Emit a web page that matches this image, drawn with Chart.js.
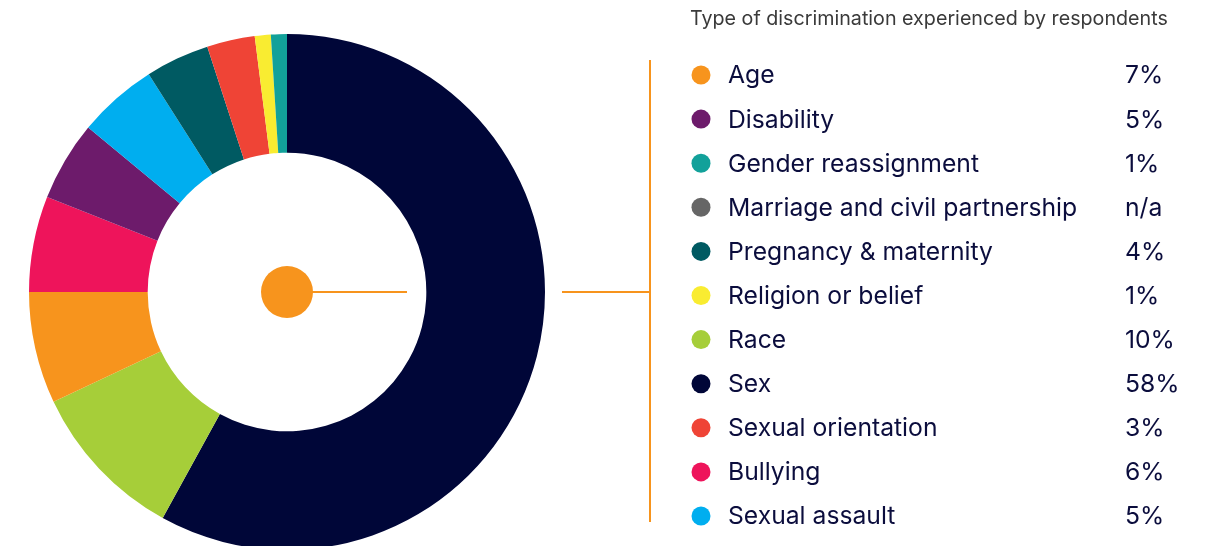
<!DOCTYPE html>
<html>
<head>
<meta charset="utf-8">
<script src="https://cdn.jsdelivr.net/npm/chart.js@4"></script>
<style>
  html, body { margin: 0; padding: 0; background: #fff; overflow: hidden; }
  #wrap { position: relative; width: 1215px; height: 560px; }
</style>
</head>
<body>
<div id="wrap"><canvas id="chart" width="1215" height="560"></canvas></div>
<script>
const title = 'Type of discrimination experienced by respondents';
const categories = ['Age', 'Disability', 'Gender reassignment', 'Marriage and civil partnership',
  'Pregnancy & maternity', 'Religion or belief', 'Race', 'Sex', 'Sexual orientation',
  'Bullying', 'Sexual assault'];
const values = [7, 5, 1, null, 4, 1, 10, 58, 3, 6, 5];
const valueLabels = ['7%', '5%', '1%', 'n/a', '4%', '1%', '10%', '58%', '3%', '6%', '5%'];
const colors = ['#f7941d', '#6d1b6b', '#12a19a', '#666666', '#005a62', '#f9ec31',
  '#a6ce39', '#000638', '#ef4436', '#ee145b', '#00aeef'];
// order of the slices clockwise from 12 o'clock
const ringOrder = ['Sex', 'Race', 'Age', 'Bullying', 'Disability', 'Sexual assault',
  'Pregnancy & maternity', 'Sexual orientation', 'Religion or belief', 'Gender reassignment'];

const ringIdx = ringOrder.map(n => categories.indexOf(n));
const orange = '#f7941d';
const navy = '#0b0d3d';
const font = '"Inter", "Noto Sans", sans-serif';

const overlay = {
  id: 'overlay',
  afterDraw(chart) {
    const ctx = chart.ctx;
    const arc = chart.getDatasetMeta(0).data[0];
    const cx = arc.x, cy = arc.y;
    ctx.save();
    // connector lines
    ctx.strokeStyle = orange;
    ctx.lineWidth = 2;
    ctx.beginPath();
    ctx.moveTo(cx, cy); ctx.lineTo(407, cy);
    ctx.moveTo(562, cy); ctx.lineTo(650, cy);
    ctx.moveTo(650, 60); ctx.lineTo(650, 522);
    ctx.stroke();
    ctx.fillStyle = orange;
    ctx.beginPath(); ctx.arc(cx, cy, 26, 0, Math.PI * 2); ctx.fill();

    // title
    ctx.fillStyle = '#3a3a3a';
    ctx.font = '19.7px ' + font;
    ctx.textBaseline = 'middle';
    ctx.textAlign = 'left';
    ctx.fillText(title, 690, 19);

    // legend rows
    categories.forEach((c, i) => {
      const y = 75 + i * 44.1;
      ctx.fillStyle = colors[i];
      ctx.beginPath(); ctx.arc(701, y, 9.5, 0, Math.PI * 2); ctx.fill();
      ctx.fillStyle = navy;
      ctx.font = '24.7px ' + font;
      ctx.fillText(c, 728, y + 1);
      ctx.fillText(valueLabels[i], 1125, y + 1);
    });
    ctx.restore();
  }
};

new Chart(document.getElementById('chart'), {
  type: 'doughnut',
  data: {
    labels: ringIdx.map(i => categories[i]),
    datasets: [{
      data: ringIdx.map(i => values[i]),
      backgroundColor: ringIdx.map(i => colors[i]),
      borderWidth: 0
    }]
  },
  options: {
    responsive: false,
    animation: false,
    cutout: '54%',
    layout: { padding: { left: 29, right: 670, top: 34, bottom: 10 } },
    plugins: { legend: { display: false }, tooltip: { enabled: false } }
  },
  plugins: [overlay]
});
</script>
</body>
</html>
